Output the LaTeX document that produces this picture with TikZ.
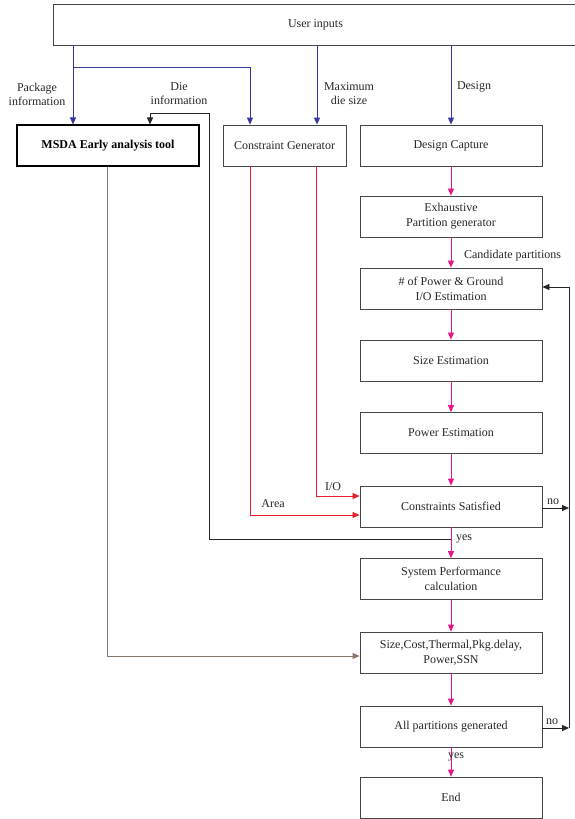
\documentclass[tikz,border=0pt]{standalone}
\usepackage{fontspec}
\setmainfont{Liberation Serif}
\usetikzlibrary{arrows.meta}
\definecolor{cblue}{RGB}{55,55,160}
\definecolor{cpink}{RGB}{232,20,140}
\definecolor{cred}{RGB}{235,30,45}
\definecolor{cbrown}{RGB}{140,118,112}
\definecolor{cbox}{RGB}{70,70,70}
\definecolor{ctext}{RGB}{40,40,40}
\begin{document}
\begin{tikzpicture}[x=1pt,y=-1pt,
  box/.style={draw=cbox, line width=0.8pt, inner sep=0pt, minimum width=182pt, minimum height=41pt, align=center, text=ctext, font=\fontsize{12}{15}\selectfont},
  lbl/.style={inner sep=0pt, align=center, text=ctext, font=\fontsize{12}{14}\selectfont},
  tip/.style={-{Triangle[length=7pt,width=6pt]}},
  bl/.style={tip, draw=cblue, line width=0.8pt},
  pk/.style={tip, draw=cpink, line width=0.8pt},
  rd/.style={tip, draw=cred, line width=0.8pt},
  bk/.style={tip, draw=black!85, line width=0.8pt},
  br/.style={tip, draw=cbrown, line width=0.8pt}]
\useasboundingbox (0,0) rectangle (575,819);
\fill[white] (0,0) rectangle (575,819);
% boxes
\node[box, minimum width=525pt] (ui) at (315.5,24.5) {User inputs};
\node[box, draw=black, line width=1.1pt, font=\bfseries\fontsize{12}{15}\selectfont, text=black] (msda) at (108,145.5) {MSDA Early analysis tool};
\node[box, minimum width=123pt] (cg) at (284.5,145.5) {Constraint Generator};
\node[box] (dc) at (451,145.5) {Design Capture};
\node[box] (ex) at (451,216.5) {Exhaustive\\Partition generator};
\node[box] (io) at (451,288.5) {\# of Power \& Ground\\I/O Estimation};
\node[box] (se) at (451,360.5) {Size Estimation};
\node[box] (pe) at (451,433) {Power Estimation};
\node[box] (cs) at (451,506.5) {Constraints Satisfied};
\node[box] (sp) at (451,579) {System Performance\\calculation};
\node[box] (sc) at (451,652.5) {Size,Cost,Thermal,Pkg.delay,\\Power,SSN};
\node[box] (ap) at (451,726.5) {All partitions generated};
\node[box] (en) at (451,797.5) {End};
% coordinates
\coordinate (bj) at (73,67);
\coordinate (bk1) at (250,67);
\coordinate (dj) at (451,539);
\coordinate (d1) at (209,539);
\coordinate (d2) at (209,113);
\coordinate (d3) at (150,113);
\coordinate (r1) at (250,515);
\coordinate (r2) at (316,496);
\coordinate (g1) at (107,656);
\coordinate (fa) at (569,508);
\coordinate (fb) at (569,728);
\coordinate (fc) at (569,287);
% blue
\draw[bl] (ui.south -| bj) -- (msda.north -| bj);
\draw[bl] (bj) -- (bk1) -- (cg.north -| bk1);
\draw[bl] (ui.south -| 317,0) -- (cg.north -| 317,0);
\draw[bl] (ui.south -| dc.north) -- (dc.north);
% pink chain
\draw[pk] (dc) -- (ex);
\draw[pk] (ex) -- (io);
\draw[pk] (io) -- (se);
\draw[pk] (se) -- (pe);
\draw[pk] (pe) -- (cs);
\draw[pk] (cs) -- (sp);
\draw[pk] (sp) -- (sc);
\draw[pk] (sc) -- (ap);
\draw[pk] (ap) -- (en);
% die information (black)
\draw[bk] (dj) -- (d1) -- (d2) -- (d3) -- (msda.north -| d3);
% red
\draw[rd] (cg.south -| r1) -- (r1) -- (cs.west |- r1);
\draw[rd] (cg.south -| r2) -- (r2) -- (cs.west |- r2);
% brown
\draw[br] (msda.south -| g1) -- (g1) -- (sc.west |- g1);
% feedback
\draw[bk] (cs.east |- fa) -- (fa);
\draw[bk] (ap.east |- fb) -- (fb);
\draw[bk] (fb) -- (fc) -- (io.east |- fc);
% labels
\node[lbl] (l1) at (37,94) {Package\\information};
\node[lbl] (l2) at (179,94) {Die\\information};
\node[lbl] (l3) at (349,94) {Maximum\\die size};
\node[lbl] (l4) at (474,87) {Design};
\node[lbl] (l5) at (512.5,256) {Candidate partitions};
\node[lbl] (l6) at (333,487) {I/O};
\node[lbl] (l7) at (273,504) {Area};
\node[lbl] (l8) at (553,502) {no};
\node[lbl] (l9) at (552,722) {no};
\node[lbl] (l10) at (464,539) {yes};
\node[lbl] (l11) at (456,757) {yes};
\end{tikzpicture}
\end{document}
